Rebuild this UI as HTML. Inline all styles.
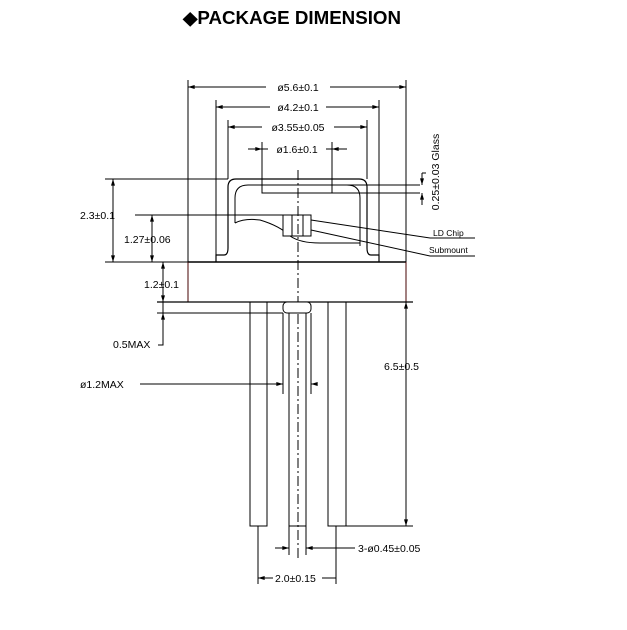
<!DOCTYPE html>
<html><head><meta charset="utf-8"><style>
html,body{margin:0;padding:0;background:#fff;width:627px;height:630px;overflow:hidden}
svg{display:block}
text{font-family:"Liberation Sans",sans-serif;fill:#000}
</style></head><body>
<svg width="627" height="630" viewBox="0 0 627 630" xmlns="http://www.w3.org/2000/svg">
<defs>
<marker id="a" viewBox="0 0 10 6" refX="10" refY="3" markerWidth="7" markerHeight="4" orient="auto-start-reverse"><path d="M0,0L10,3L0,6z" fill="#000"/></marker>
</defs>
<text x="292" y="24" text-anchor="middle" font-size="18" font-weight="bold" textLength="218" lengthAdjust="spacingAndGlyphs">◆PACKAGE DIMENSION</text>
<g stroke="#000" stroke-width="1" fill="none">
<path d="M188,80V262M406,80V262M216,100V255M379,100V255M228,120V179M367,120V179M262,142V185M332,142V185"/>
<path d="M188,87H266M330,87H406" marker-start="url(#a)" marker-end="url(#a)"/>
<path d="M216,107H270M326,107H379" marker-start="url(#a)" marker-end="url(#a)"/>
<path d="M228,127H262M334,127H367" marker-start="url(#a)" marker-end="url(#a)"/>
<path d="M248,149H262" marker-end="url(#a)"/><path d="M347,149H332" marker-end="url(#a)"/>
<path d="M262,149H268M326,149H332"/>
<path d="M216,262V255H224Q228,255 228,248V187Q228,179 236,179H359Q367,179 367,187V248Q367,255 371,255H379V262" stroke-width="1.2"/>
<path d="M235,223V198Q235,185 248,185H347Q360,185 360,198V246"/>
<rect x="262" y="185" width="70" height="8"/>
<path d="M235,223Q245,218 260,220Q280,226 290,236Q300,243 320,243H360"/>
<rect x="283" y="215" width="28" height="21" fill="#fff"/>
<path d="M292,215V236M303,215V236"/>
<path d="M188,262H406" stroke-width="1.5"/>
<path d="M188,262V302M406,262V302" stroke="#400"/>
<path d="M157,302H413" stroke-width="1.3"/>
<path d="M298,170V560" stroke-dasharray="10,3,2,3"/>
<path d="M105,179H228M135,215H283M105,262H188"/>
<path d="M113,179V262" marker-start="url(#a)" marker-end="url(#a)"/>
<path d="M152,215V262" marker-start="url(#a)" marker-end="url(#a)"/>
<path d="M163,262V302" marker-start="url(#a)" marker-end="url(#a)"/>
<path d="M332,185H420M332,193H420"/>
<path d="M422,173V185M422,193V205M422,173H426" />
<path d="M422,176V185" marker-end="url(#a)"/><path d="M422,202V193" marker-end="url(#a)"/>
<path d="M311,220L430,238H475M311,230L430,256H475"/>
<rect x="250" y="302" width="17" height="224"/>
<rect x="328" y="302" width="18" height="224"/>
<rect x="289" y="313" width="17" height="213"/>
<rect x="283" y="302" width="28" height="11" rx="4" fill="#fff"/>
<path d="M157,313H283"/>
<path d="M163,302V345H158" /><path d="M163,330V313" marker-end="url(#a)"/>
<path d="M283,313V394M311,313V394"/>
<path d="M140,384H283" marker-end="url(#a)"/><path d="M316,384H311" marker-end="url(#a)"/>
<path d="M406,302V526" marker-start="url(#a)" marker-end="url(#a)"/>
<path d="M346,526H413"/>
<path d="M289,526V555M306,526V555"/>
<path d="M275,548H289" marker-end="url(#a)"/><path d="M355,548H306" marker-end="url(#a)"/>
<path d="M258,526V584M336,526V584"/>
<path d="M258,578H273M322,578H336" marker-start="url(#a)"/>
</g>
<g font-size="10.5">
<rect x="268" y="80" width="60" height="14" fill="#fff"/>
<text x="298" y="91" text-anchor="middle">ø5.6±0.1</text>
<text x="298" y="111" text-anchor="middle">ø4.2±0.1</text>
<text x="298" y="131" text-anchor="middle">ø3.55±0.05</text>
<text x="297" y="153" text-anchor="middle">ø1.6±0.1</text>
<text x="80" y="219">2.3±0.1</text>
<text x="124" y="243">1.27±0.06</text>
<text x="144" y="288">1.2±0.1</text>
<text x="113" y="348">0.5MAX</text>
<text x="80" y="388">ø1.2MAX</text>
<text x="384" y="370">6.5±0.5</text>
<text x="358" y="552">3-ø0.45±0.05</text>
<text x="275" y="582">2.0±0.15</text>
<text transform="translate(439,172) rotate(-90)" text-anchor="middle">0.25±0.03 Glass</text>
</g>
<g font-size="8.5">
<text x="433" y="236">LD Chip</text>
<text x="429" y="253">Submount</text>
</g>
</svg>
</body></html>
